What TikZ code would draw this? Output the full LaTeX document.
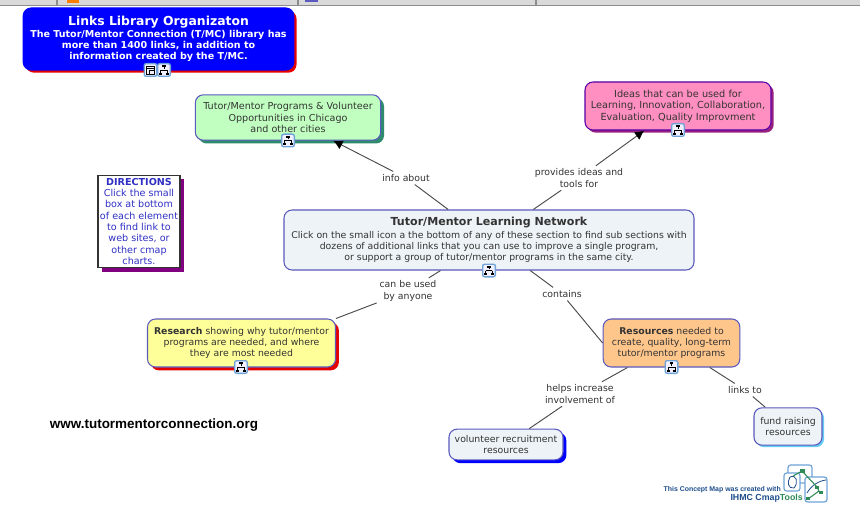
\documentclass[tikz,border=0pt]{standalone}
\usepackage{fontspec}
\setmainfont{DejaVu Sans}
\newfontfamily\urlfont{Liberation Sans}
\usetikzlibrary{shadows,arrows.meta}
\definecolor{edgeblue}{HTML}{5A5ABE}
\definecolor{linegray}{HTML}{4A4A4A}
\definecolor{paleblue}{HTML}{EDF3F6}
\definecolor{iconblue}{HTML}{6FA3D8}
\definecolor{logoblue}{HTML}{1F4E8C}
\definecolor{logogreen}{HTML}{2E8B57}
\definecolor{directionblue}{HTML}{2F2FC4}
\tikzset{
  concept/.style={draw=edgeblue, line width=0.8pt, rounded corners=6pt, align=center, font=\fontsize{7}{8.5}\selectfont, text=black!80, inner sep=0pt},
  linklabel/.style={align=center, font=\fontsize{7}{8.5}\selectfont, text=black!80, inner sep=2pt, fill=white},
  link/.style={draw=linegray, line width=0.7pt},
  arrowlink/.style={link, -{Latex[length=7pt,width=7pt,black]}},
  boxshadow/.style={drop shadow={shadow xshift=#1, shadow yshift=-#1, fill=shadowcol, opacity=1}},
  iconbox/.style={draw=iconblue, fill=blue!6, line width=1pt, rounded corners=1.5pt, minimum size=9.5pt, inner sep=0pt},
}
% small hierarchy glyph on an element
\newcommand{\cmapicon}[2]{
  \node[iconbox] (#1) at (#2) {};
  \draw[black, line width=0.45pt] (#1.center) ++(0,3pt) -- ++(0,-2pt) ++(-2.5pt,-1pt) -- ++(5pt,0) ++(-5pt,0) -- ++(0,-2.5pt) ++(5pt,2.5pt) -- ++(0,-2.5pt);
  \fill[black] (#1.center) ++(-1.2pt,2pt) rectangle ++(2.4pt,1.6pt);
  \fill[black] (#1.center) ++(-3.7pt,-3.6pt) rectangle ++(2.4pt,1.6pt);
  \fill[black] (#1.center) ++(1.3pt,-3.6pt) rectangle ++(2.4pt,1.6pt);
}
\begin{document}
\begin{tikzpicture}[x=0.75pt, y=-0.75pt]
  \useasboundingbox (0,0) rectangle (860,524);
  \fill[white] (0,0) rectangle (860,524);
  % window edge
  \fill[black!15] (0,0) rectangle (860,5);
  \fill[black!45] (0,5) rectangle (860,6.5);
  \fill[black!45] (56,0) rectangle (57.5,5);
  \fill[black!45] (297,0) rectangle (298.5,5);
  \fill[black!45] (535,0) rectangle (536.5,5);
  \fill[orange] (67,0) rectangle (79,3);
  \fill[edgeblue] (305,0) rectangle (318,2);

  \colorlet{shadowcol}{red!90!black}
  \node[concept, boxshadow=2pt, fill=blue, draw=blue, text=white, font=\fontsize{7.15}{8.5}\selectfont\bfseries, minimum width=203pt, minimum height=46.5pt] (library) at (158.5,39) {{\fontsize{9.3}{10}\selectfont Links Library Organizaton}\\The Tutor/Mentor Connection (T/MC) library has\\more than 1400 links, in addition to\\information created by the T/MC.};
  \definecolor{shadowcol}{HTML}{2E8B6E}
  \node[concept, boxshadow=2.5pt, fill={rgb,255:red,192;green,255;blue,192}, font=\fontsize{7.2}{8.5}\selectfont, minimum width=139pt, minimum height=34pt] (programs) at (288,117.5) {Tutor/Mentor Programs \& Volunteer\\Opportunities in Chicago\\and other cities};
  \definecolor{shadowcol}{HTML}{99227F}
  \node[concept, boxshadow=2pt, fill={rgb,255:red,255;green,143;blue,192}, draw=violet!70!blue, font=\fontsize{7.3}{8.5}\selectfont, minimum width=139.5pt, minimum height=36pt] (ideas) at (678,106) {Ideas that can be used for\\Learning, Innovation, Collaboration,\\Evaluation, Quality Improvment};
  \colorlet{shadowcol}{violet}
  \node[draw=black!80, line width=0.8pt, boxshadow=3pt, fill=white, align=center, text=directionblue, font=\fontsize{7.2}{8.5}\selectfont, minimum width=61.5pt, minimum height=69.5pt, inner sep=0pt] (directions) at (139,221.5) {\textbf{DIRECTIONS}\\Click the small\\box at bottom\\of each element\\to find link to\\web sites, or\\other cmap\\charts.};
  \node[concept, fill=paleblue, minimum width=307.5pt, minimum height=45pt] (network) at (489,240) {{\bfseries\fontsize{8.3}{10}\selectfont Tutor/Mentor Learning Network}\\[1pt]Click on the small icon a the bottom of any of these section to find sub sections with\\dozens of additional links that you can use to improve a single program,\\or support a group of tutor/mentor programs in the same city.};
  \colorlet{shadowcol}{red!90!black}
  \node[concept, boxshadow=2.5pt, fill={rgb,255:red,255;green,255;blue,153}, minimum width=141pt, minimum height=36pt] (research) at (241.5,343) {\textbf{Research} showing why tutor/mentor\\programs are needed, and where\\they are most needed};
  \node[concept, fill={rgb,255:red,255;green,198;blue,140}, minimum width=102.5pt, minimum height=36pt] (resources) at (671.5,343) {\textbf{Resources} needed to\\create, quality, long-term\\tutor/mentor programs};
  \colorlet{shadowcol}{blue}
  \node[concept, boxshadow=2.5pt, fill=paleblue, minimum width=85.5pt, minimum height=23pt] (volunteer) at (506,444.5) {volunteer recruitment\\resources};
  \colorlet{shadowcol}{cyan!60}
  \node[concept, boxshadow=1.5pt, fill=paleblue, minimum width=51pt, minimum height=28pt] (fundraising) at (788,426.5) {fund raising\\resources};

  \node[linklabel] (infoabout) at (406,178) {info about};
  \node[linklabel] (provides) at (579,178) {provides ideas and\\tools for};
  \node[linklabel] (usedby) at (408,291) {can be used\\by anyone};
  \node[linklabel] (contains) at (562,294) {contains};
  \node[linklabel] (helps) at (580,394) {helps increase\\involvement of};
  \node[linklabel] (linksto) at (745,390) {links to};

  \draw[link] (network) -- (infoabout);
  \draw[arrowlink] (infoabout) -- (programs);
  \draw[link] (network) -- (provides);
  \draw[arrowlink] (provides) -- (ideas);
  \draw[link] (network) -- (usedby);
  \draw[link] (usedby) -- (research.north east);
  \draw[link] (network) -- (contains);
  \draw[link] (contains) -- (resources.west);
  \draw[link] (resources) -- (helps);
  \draw[link] (helps) -- (volunteer);
  \draw[link] (resources) -- (linksto);
  \draw[link] (linksto) -- (fundraising);

  \node[iconbox] (pageicon) at (150.5,70) {};
  \draw[black, line width=0.4pt] (pageicon.center) ++(-3pt,-3pt) rectangle ++(6pt,6pt);
  \draw[black, line width=0.4pt] (pageicon.center) ++(-1pt,-3pt) -- ++(0,3pt) -- ++(4pt,0) ++(-6pt,1.5pt) -- ++(6pt,0);
  \cmapicon{libraryicon}{164,70}
  \cmapicon{programsicon}{288,140.5}
  \cmapicon{ideasicon}{678,130}
  \cmapicon{networkicon}{489,270.5}
  \cmapicon{researchicon}{241,367}
  \cmapicon{resourcesicon}{671.5,367}

  \node[font=\urlfont\bfseries\fontsize{10.1}{12}\selectfont, text=black, inner sep=0pt] (siteurl) at (154,425.5) {www.tutormentorconnection.org};

  % tool logo
  \node[anchor=east, font=\urlfont\bfseries\fontsize{5.2}{6}\selectfont, text=logoblue, inner sep=0pt] (madewith) at (781,489.5) {This Concept Map was created with};
  \node[anchor=east, font=\urlfont\bfseries\fontsize{6.6}{8}\selectfont, text=logoblue, inner sep=0pt] (toolname) at (803,498) {IHMC Cmap\textcolor{logogreen}{Tools}};
  \draw[iconblue, line width=0.9pt, rounded corners=2pt] (788,465) rectangle (812,483);
  \draw[iconblue, line width=0.9pt, fill=white, rounded corners=2pt] (784,473) rectangle (800,491);
  \draw[iconblue, line width=0.9pt, fill=white, rounded corners=2pt] (805,477) rectangle (827,502);
  \draw[logoblue, line width=0.6pt] (790,477) .. controls (796,474) and (799,482) .. (794,488) .. controls (788,489) and (787,482) .. (790,477);
  \draw[logoblue, line width=0.6pt] (807,493) .. controls (811,486) and (818,481) .. (826,480);
  \draw[logogreen, line width=0.8pt] (793,476) -- (802,471) -- (817,487) -- (819,491) -- (808,499);
  \fill[logogreen] (799.5,469) rectangle (805,472.5);
  \fill[logogreen] (815,486) rectangle (819,489);
  \fill[logogreen] (819,491) rectangle (823,494);
  \fill[logogreen] (806,497) rectangle (810,500);
\end{tikzpicture}
\end{document}
